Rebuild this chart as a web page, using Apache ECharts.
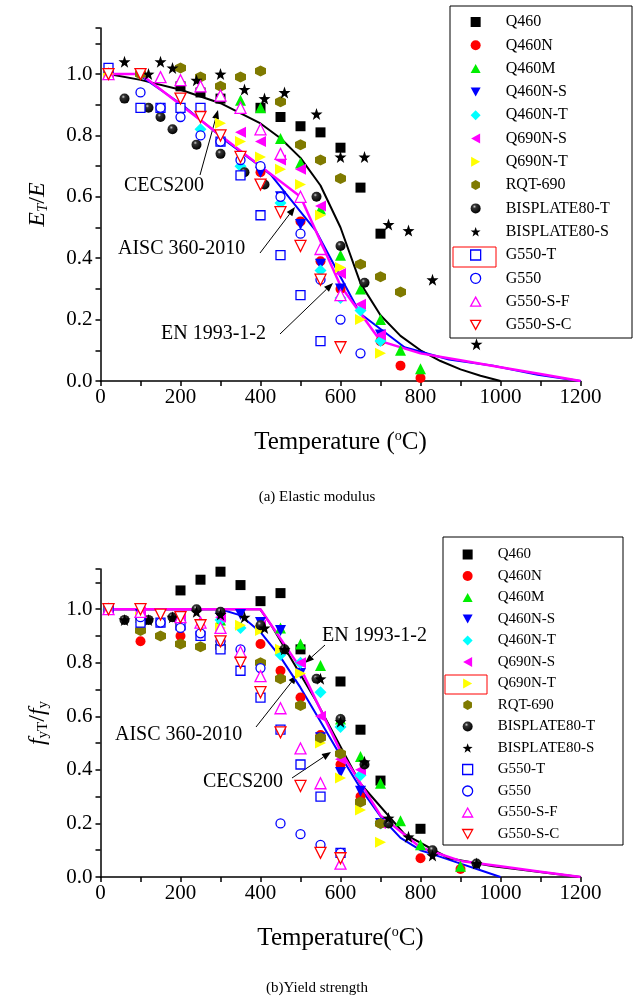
<!DOCTYPE html>
<html><head><meta charset="utf-8">
<script src="https://cdn.jsdelivr.net/npm/echarts@6/dist/echarts.min.js"></script>
<style>html,body{margin:0;padding:0;background:#fff}#c{width:633px;height:997px}</style>
</head><body><div id="c"></div>
<script>
// ---------- names ----------
const seriesNames = ['Q460','Q460N','Q460M','Q460N-S','Q460N-T','Q690N-S','Q690N-T','RQT-690','BISPLATE80-T','BISPLATE80-S','G550-T','G550','G550-S-F','G550-S-C'];
const xTicks = [0,200,400,600,800,1000,1200];
const yTicks = [0.0,0.2,0.4,0.6,0.8,1.0];

// ---------- (a) Elastic modulus data [T, E_T/E] ----------
const eQ460 = [[20,1.0],[200,0.96],[250,0.94],[300,0.92],[400,0.89],[450,0.86],[500,0.83],[550,0.81],[600,0.76],[650,0.63],[700,0.48]];
const eQ460N = [[20,1.0],[300,0.78],[400,0.68],[500,0.52],[550,0.39],[600,0.30],[700,0.13],[750,0.05],[800,0.01]];
const eQ460M = [[20,1.0],[350,0.915],[400,0.89],[450,0.79],[500,0.71],[550,0.56],[600,0.41],[650,0.30],[700,0.20],[750,0.10],[800,0.04]];
const eQ460NS = [[20,1.0],[300,0.80],[400,0.68],[450,0.60],[500,0.51],[550,0.38],[600,0.30],[700,0.15]];
const eQ460NT = [[20,1.0],[250,0.82],[350,0.70],[450,0.58],[550,0.36],[600,0.27],[650,0.23],[700,0.13]];
const eQ690NS = [[20,1.0],[350,0.81],[400,0.78],[450,0.72],[500,0.69],[550,0.57],[600,0.35],[650,0.25],[700,0.15]];
const eQ690NT = [[20,1.0],[300,0.84],[350,0.78],[400,0.73],[450,0.69],[500,0.64],[550,0.54],[600,0.37],[650,0.20],[700,0.09]];
const eRQT690 = [[100,1.0],[200,1.02],[250,0.99],[300,0.96],[350,0.99],[400,1.01],[450,0.91],[500,0.77],[550,0.72],[600,0.66],[650,0.38],[700,0.34],[750,0.29]];
const eBisT = [[60,0.92],[120,0.89],[150,0.86],[180,0.82],[240,0.77],[300,0.74],[360,0.68],[410,0.64],[540,0.60],[600,0.44],[660,0.32]];
const eBisS = [[60,1.04],[120,1.0],[150,1.04],[180,1.02],[240,0.98],[300,1.0],[360,0.95],[410,0.92],[460,0.94],[540,0.87],[600,0.73],[660,0.73],[720,0.51],[770,0.49],[830,0.33],[940,0.12]];
const eG550T = [[20,1.02],[100,0.89],[150,0.89],[200,0.89],[250,0.89],[300,0.78],[350,0.67],[400,0.54],[450,0.41],[500,0.28],[550,0.13]];
const eG550 = [[100,0.94],[150,0.89],[200,0.86],[250,0.80],[300,0.78],[350,0.72],[400,0.70],[450,0.60],[500,0.48],[550,0.33],[600,0.20],[650,0.09]];
const eG550SF = [[20,1.0],[150,0.99],[200,0.98],[250,0.96],[300,0.93],[350,0.89],[400,0.82],[450,0.74],[500,0.60],[550,0.43],[600,0.28]];
const eG550SC = [[20,1.0],[100,1.0],[200,0.92],[250,0.86],[300,0.80],[350,0.73],[400,0.64],[450,0.55],[500,0.44],[550,0.33],[600,0.11]];
// code curves (a)
const eEN = [[20,1.0],[100,1.0],[200,0.9],[300,0.8],[400,0.7],[500,0.6],[600,0.31],[700,0.13],[800,0.09],[900,0.0675],[1000,0.045],[1100,0.0225],[1200,0.0]];
const eAISC = [[20,1.0],[93,1.0],[204,0.9],[316,0.78],[399,0.70],[427,0.67],[538,0.49],[649,0.22],[760,0.11],[871,0.07],[982,0.05],[1093,0.02],[1200,0.0]];
const eCECS = [[20,1.0],[100,0.981],[200,0.949],[300,0.905],[400,0.839],[450,0.791],[500,0.727],[550,0.637],[600,0.5],[650,0.318],[700,0.214],[750,0.147],[800,0.1],[850,0.065],[900,0.038],[950,0.017],[1000,0.0]];

// ---------- (b) Yield strength data [T, f_yT/f_y] ----------
const yQ460 = [[20,1.0],[200,1.07],[250,1.11],[300,1.14],[350,1.09],[400,1.03],[450,1.06],[500,0.85],[600,0.73],[650,0.55],[700,0.36],[800,0.18]];
const yQ460N = [[20,1.0],[100,0.88],[200,0.90],[300,0.88],[400,0.87],[450,0.77],[500,0.67],[550,0.53],[600,0.42],[650,0.30],[700,0.20],[800,0.07],[900,0.03]];
const yQ460M = [[20,1.0],[100,0.97],[200,0.97],[300,0.96],[400,0.95],[450,0.93],[500,0.87],[550,0.79],[600,0.59],[650,0.45],[700,0.35],[750,0.21],[800,0.12],[900,0.04]];
const yQ460NS = [[20,1.0],[100,0.98],[200,0.97],[300,0.97],[350,0.98],[400,0.95],[450,0.92],[500,0.76],[550,0.52],[600,0.39],[650,0.32],[700,0.20]];
const yQ460NT = [[20,1.0],[100,0.97],[200,0.96],[300,0.96],[350,0.93],[400,0.93],[450,0.83],[500,0.80],[550,0.69],[600,0.56],[650,0.38],[700,0.20]];
const yQ690NS = [[20,1.0],[100,0.99],[200,0.98],[300,0.97],[400,0.94],[450,0.85],[500,0.80],[550,0.60],[600,0.44],[650,0.40],[700,0.20]];
const yQ690NT = [[20,1.0],[100,0.97],[200,0.95],[300,0.93],[350,0.94],[400,0.92],[450,0.85],[500,0.76],[550,0.50],[600,0.37],[650,0.25],[700,0.13]];
const yRQT690 = [[100,0.92],[150,0.90],[200,0.87],[250,0.86],[300,0.86],[400,0.80],[450,0.74],[500,0.64],[550,0.52],[600,0.46],[650,0.28],[700,0.20]];
const yBisT = [[60,0.96],[120,0.96],[180,0.97],[240,1.0],[300,0.99],[400,0.94],[460,0.85],[540,0.74],[600,0.59],[660,0.42],[720,0.20],[830,0.10],[940,0.05]];
const yBisS = [[60,0.96],[120,0.96],[180,0.97],[240,0.99],[300,0.98],[360,0.97],[410,0.93],[460,0.85],[550,0.74],[600,0.58],[660,0.43],[720,0.22],[770,0.15],[830,0.08],[940,0.05]];
const yG550T = [[20,1.0],[100,0.95],[150,0.95],[200,0.94],[250,0.90],[300,0.85],[350,0.77],[400,0.67],[450,0.55],[500,0.42],[550,0.30],[600,0.09]];
const yG550 = [[100,0.97],[150,0.95],[200,0.93],[250,0.91],[300,0.88],[350,0.85],[400,0.78],[450,0.20],[500,0.16],[550,0.12],[600,0.09]];
const yG550SF = [[20,1.0],[100,0.99],[200,0.97],[250,0.95],[300,0.93],[350,0.84],[400,0.75],[450,0.63],[500,0.48],[550,0.35],[600,0.05]];
const yG550SC = [[20,1.0],[100,1.0],[150,0.98],[200,0.97],[250,0.94],[300,0.88],[350,0.80],[400,0.69],[450,0.54],[500,0.34],[550,0.09],[600,0.07]];
// code curves (b)
const yEN = [[20,1.0],[100,1.0],[200,1.0],[300,1.0],[400,1.0],[500,0.78],[600,0.47],[700,0.23],[800,0.11],[900,0.06],[1000,0.04],[1100,0.02],[1200,0.0]];
const yAISC = [[20,1.0],[93,1.0],[204,1.0],[316,1.0],[399,1.0],[427,0.94],[538,0.66],[649,0.35],[760,0.16],[871,0.07],[982,0.04],[1093,0.02],[1200,0.0]];
const yCECS = [[20,1.0],[300,1.0],[350,0.977],[400,0.914],[450,0.821],[500,0.707],[550,0.581],[600,0.453],[650,0.331],[700,0.226],[750,0.146],[800,0.1],[850,0.075],[900,0.05],[950,0.025],[1000,0.0]];

const eData = [eQ460,eQ460N,eQ460M,eQ460NS,eQ460NT,eQ690NS,eQ690NT,eRQT690,eBisT,eBisS,eG550T,eG550,eG550SF,eG550SC];
const yData = [yQ460,yQ460N,yQ460M,yQ460NS,yQ460NT,yQ690NS,yQ690NT,yRQT690,yBisT,yBisS,yG550T,yG550,yG550SF,yG550SC];

// ---------- styles ----------
const STAR = 'path://M0,-10 L2.35,-3.24 L9.51,-3.09 L3.8,1.24 L5.88,8.09 L0,4 L-5.88,8.09 L-3.8,1.24 L-9.51,-3.09 L-2.35,-3.24 Z';
const HEX = 'path://M0,-10 L8.66,-5 L8.66,5 L0,10 L-8.66,5 L-8.66,-5 Z';
const TUP = 'path://M0,-10 L10,8 L-10,8 Z';
const TDN = 'path://M-10,-8 L10,-8 L0,10 Z';
const TLF = 'path://M-10,0 L8,-10 L8,10 Z';
const TRT = 'path://M10,0 L-8,-10 L-8,10 Z';
const SPHERE = {type:'radial', x:0.38, y:0.32, r:0.7, colorStops:[{offset:0,color:'#d0d0d0'},{offset:0.25,color:'#333333'},{offset:1,color:'#000000'}]};
const sty = [
  {symbol:'rect', fill:'#000000', stroke:'#000000', bw:0, size:10},
  {symbol:'circle', fill:'#ff0000', stroke:'#ff0000', bw:0, size:10},
  {symbol:TUP, fill:'#00ee00', stroke:'#00ee00', bw:0, size:11},
  {symbol:TDN, fill:'#0000ff', stroke:'#0000ff', bw:0, size:11},
  {symbol:'diamond', fill:'#00ffff', stroke:'#00ffff', bw:0, size:12},
  {symbol:TLF, fill:'#ff00ff', stroke:'#ff00ff', bw:0, size:11},
  {symbol:TRT, fill:'#ffff00', stroke:'#ffff00', bw:0, size:11},
  {symbol:HEX, fill:'#7f7a00', stroke:'#7f7a00', bw:0, size:11},
  {symbol:'circle', fill:SPHERE, stroke:'#000000', bw:0, size:10},
  {symbol:STAR, fill:'#000000', stroke:'#000000', bw:0, size:12},
  {symbol:'rect', fill:'#ffffff', stroke:'#0000ff', bw:1.3, size:9},
  {symbol:'circle', fill:'#ffffff', stroke:'#0000ff', bw:1.3, size:9},
  {symbol:TUP, fill:'#ffffff', stroke:'#ff00ff', bw:1.3, size:11},
  {symbol:TDN, fill:'#ffffff', stroke:'#ff0000', bw:1.3, size:11}
];

const FONT = 'Liberation Serif';
function axisX(gi, nameStr){
  return {type:'value', gridIndex:gi, min:0, max:1200, interval:100,
    name:nameStr, nameLocation:'middle', nameGap:48,
    nameTextStyle:{fontFamily:FONT, fontSize:25, color:'#000', rich:{sup:{fontFamily:FONT,fontSize:14,verticalAlign:'top',padding:[0,0,12,0]}}},
    axisLine:{onZero:false, lineStyle:{color:'#000', width:1.5}},
    axisTick:{inside:false, length:5, lineStyle:{color:'#000', width:1.5}},
    axisLabel:{fontFamily:FONT, fontSize:21, color:'#000', margin:6,
      formatter:v => (xTicks.indexOf(v) >= 0 ? String(v) : '')},
    splitLine:{show:false}};
}
function axisY(gi, nameStr, rich){
  return {type:'value', gridIndex:gi, min:0, max:1.15, interval:0.1,
    name:nameStr, nameLocation:'middle', nameGap:50, nameRotate:90,
    nameTextStyle:{fontFamily:FONT, fontSize:24, color:'#000', rich:rich},
    axisLine:{onZero:false, lineStyle:{color:'#000', width:1.5}},
    axisTick:{inside:false, length:5, lineStyle:{color:'#000', width:1.5}},
    axisLabel:{fontFamily:FONT, fontSize:21, color:'#000', margin:8,
      formatter:v => {const k = Math.round(v*10); return (k % 2 === 0 && k <= 10) ? (k/10).toFixed(1) : '';}},
    splitLine:{show:false}};
}

const series = [];
function addLine(data, color, width, gi){
  series.push({type:'line', xAxisIndex:gi, yAxisIndex:gi, data:data, showSymbol:false, symbol:'none',
    lineStyle:{color:color, width:width}, z:1, silent:true, animation:false});
}
addLine(eCECS,'#000000',2,0); addLine(eAISC,'#0000ff',2,0); addLine(eEN,'#ff00ff',2.5,0);
addLine(yCECS,'#0000ff',2,1); addLine(yAISC,'#000000',2,1); addLine(yEN,'#ff00ff',2.5,1);

function addScatter(arrs, gi){
  arrs.forEach((d,i) => {
    const s = sty[i];
    series.push({type:'scatter', name:seriesNames[i], xAxisIndex:gi, yAxisIndex:gi, data:d,
      symbol:s.symbol, symbolSize:s.size, z:2+i, animation:false,
      itemStyle:{color:s.fill, borderColor:s.stroke, borderWidth:s.bw, opacity:1}});
  });
}
addScatter(eData,0);
addScatter(yData,1);

function legendCfg(left, top, padL, gap, fs){
  return {orient:'vertical', left:left, top:top, padding:[0,0,0,padL], itemWidth:10, itemHeight:10, itemGap:gap,
    selectedMode:false,
    data:seriesNames.map((n,i) => ({name:n, icon:sty[i].symbol,
      itemStyle:{color:sty[i].fill, borderColor:sty[i].stroke, borderWidth:sty[i].bw}})),
    textStyle:{fontFamily:FONT, fontSize:fs, color:'#000', lineHeight:fs, padding:[0,0,0,20]}};
}

function arrow(x1,y1,x2,y2){
  const a = Math.atan2(y2-y1, x2-x1), L = 9, W = 3.5;
  const bx = x2 - L*Math.cos(a), by = y2 - L*Math.sin(a);
  const px = -Math.sin(a)*W, py = Math.cos(a)*W;
  return [
    {type:'line', shape:{x1:x1,y1:y1,x2:bx,y2:by}, style:{stroke:'#000', lineWidth:1}},
    {type:'polygon', shape:{points:[[x2,y2],[bx+px,by+py],[bx-px,by-py]]}, style:{fill:'#000'}}
  ];
}
function txt(x,y,s,fs,align){
  return {type:'text', x:x, y:y, style:{text:s, fontFamily:FONT, fontSize:fs, fill:'#000', align:align||'left', verticalAlign:'middle'}};
}

const graphics = [].concat(
  [{type:'rect', shape:{x:450,y:6,width:182,height:332}, style:{fill:null, stroke:'#000', lineWidth:1}, z:-1},
   {type:'rect', shape:{x:453,y:247,width:43,height:20}, style:{fill:null, stroke:'#ff0000', lineWidth:1}},
   {type:'rect', shape:{x:443,y:537,width:180,height:308}, style:{fill:null, stroke:'#000', lineWidth:1}, z:-1},
   {type:'rect', shape:{x:445,y:675,width:42,height:19}, style:{fill:null, stroke:'#ff0000', lineWidth:1}},
   txt(124,186,'CECS200',20), txt(118,249,'AISC 360-2010',20), txt(161,334,'EN 1993-1-2',20),
   txt(322,636,'EN 1993-1-2',20), txt(115,735,'AISC 360-2010',20), txt(203,782,'CECS200',20),
   txt(317,497,'(a) Elastic modulus',15,'center'), txt(317,988,'(b)Yield strength',15,'center')],
  arrow(200,175,218,110), arrow(260,253,295,207), arrow(280,334,333,283),
  arrow(325,645,305,663), arrow(256,727,297,675), arrow(292,778,331,752)
);

const chart = echarts.init(document.getElementById('c'), null, {renderer:'canvas'});
chart.setOption({
  backgroundColor:'#fff',
  animation:false,
  grid:[{left:100.5, top:28, width:480, height:353},
        {left:100.5, top:569, width:480, height:308}],
  xAxis:[axisX(0,'Temperature ({sup|o}C)'), axisX(1,'Temperature({sup|o}C)')],
  yAxis:[axisY(0,'{i|E}{s|T}{n|/}{i|E}', {i:{fontFamily:FONT,fontSize:24,fontStyle:'italic'}, n:{fontFamily:FONT,fontSize:24}, s:{fontFamily:FONT,fontSize:15,fontStyle:'italic',verticalAlign:'bottom',padding:[10,0,0,0]}}),
         axisY(1,'{i|f}{s|yT}{n|/}{i|f}{s|y}', {i:{fontFamily:FONT,fontSize:24,fontStyle:'italic'}, n:{fontFamily:FONT,fontSize:24}, s:{fontFamily:FONT,fontSize:15,verticalAlign:'bottom',padding:[10,0,0,0]}})],
  legend:[legendCfg(450,14,20,7.3,16), legendCfg(443,547,19,6.5,15)],
  graphic:graphics,
  series:series
});
</script></body></html>
